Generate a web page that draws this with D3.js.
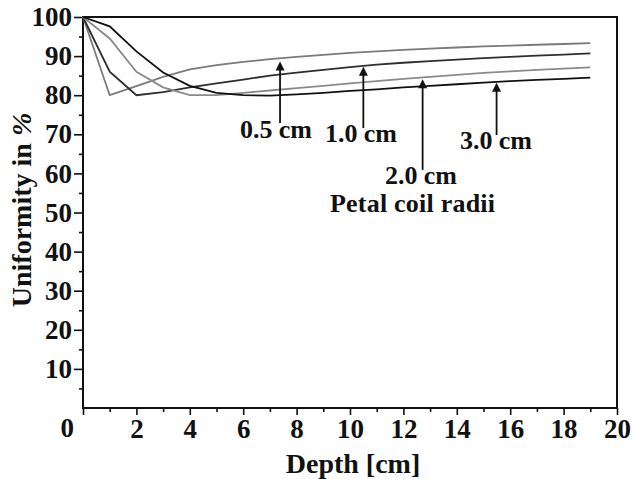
<!DOCTYPE html>
<html>
<head>
<meta charset="utf-8">
<script src="https://cdn.jsdelivr.net/npm/d3@7"></script>
<style>
  html, body { margin: 0; padding: 0; background: #fff; }
  svg { display: block; }
  text { font-family: "Liberation Serif", "Times New Roman", serif; font-weight: bold; fill: #111; }
</style>
</head>
<body>
<svg id="chart" width="632" height="479"></svg>
<script>
// ---- data ----
const depth = [0,1,2,3,4,5,6,7,8,9,10,11,12,13,14,15,16,17,18,19];
const r05 = [100,80,82.3,84.7,86.6,87.7,88.5,89.2,89.8,90.3,90.8,91.2,91.6,91.9,92.2,92.5,92.7,92.9,93.1,93.3];
const r10 = [100,86,80,80.8,82,83,84,85,85.8,86.5,87.2,87.8,88.3,88.7,89.1,89.5,89.8,90.1,90.4,90.7];
const r20 = [100,94.5,86,82,80,80,80.6,81.2,81.8,82.4,83,83.6,84.2,84.7,85.2,85.7,86.1,86.5,86.8,87.1];
const r30 = [100,97.6,91.2,85.8,82.4,80.6,80,79.9,80.2,80.6,81.1,81.5,82,82.4,82.8,83.2,83.6,83.9,84.2,84.5];
const seriesNames = ["0.5 cm","1.0 cm","2.0 cm","3.0 cm"];
const seriesValues = [r05, r10, r20, r30];
const seriesColors = ["#7a7a7a","#2e2e2e","#8a8a8a","#111111"];
// annotation arrows: x position (depth), tip value, tail value
const arrowX = [7.38, 10.5, 12.72, 15.49];
const arrowTip = [88.6, 87.3, 84.1, 83.2];
const arrowTail = [72.9, 71.6, 60.9, 69.8];
const xTicks = [0,2,4,6,8,10,12,14,16,18,20];
const yTicks = [10,20,30,40,50,60,70,80,90,100];

// ---- layout ----
const svg = d3.select("#chart");
const L = 83, R = 617, T = 17, B = 408;
const x = d3.scaleLinear().domain([0,20]).range([L,R]);
const y = d3.scaleLinear().domain([0,100]).range([B,T]);

const FF = "'Liberation Serif', 'Times New Roman', serif";
// minor ticks
const gx = svg.append("g").attr("transform",`translate(0,${B})`);
gx.call(d3.axisBottom(x).tickValues(d3.range(1,20,2)).tickSize(4).tickFormat(""));
const gxM = svg.append("g").attr("transform",`translate(0,${B})`);
gxM.call(d3.axisBottom(x).tickValues(xTicks).tickSize(7).tickPadding(4)
  .tickFormat(d => d === 0 ? "" : d));
const gy = svg.append("g").attr("transform",`translate(${L},0)`);
gy.call(d3.axisLeft(y).tickValues(d3.range(5,100,10)).tickSize(4).tickFormat(""));
const gyM = svg.append("g").attr("transform",`translate(${L},0)`);
gyM.call(d3.axisLeft(y).tickValues(yTicks).tickSize(9).tickPadding(2));
[gx,gxM,gy,gyM].forEach(g => {
  g.attr("font-family", FF);
  g.select(".domain").remove();
  g.selectAll(".tick line").attr("stroke","#111").attr("stroke-width",1.6);
  g.selectAll(".tick text").style("font-size","27px").attr("fill","#111")
    .style("font-family",FF).style("font-weight","bold");
});
// corner zero label
svg.append("text").attr("x", L-9).attr("y", 437).attr("text-anchor","end")
  .style("font-size","27px").text("0");

// frame
svg.append("rect").attr("x",L).attr("y",T).attr("width",R-L).attr("height",B-T)
  .attr("fill","none").attr("stroke","#111").attr("stroke-width",2);

// lines
const line = d3.line().x((d,i) => x(depth[i])).y(d => y(d));
seriesValues.forEach((vals,k) => {
  svg.append("path").datum(vals).attr("d",line)
    .attr("fill","none").attr("stroke",seriesColors[k]).attr("stroke-width",1.8);
});

// arrows
arrowX.forEach((ax,k) => {
  const px = x(ax), pt = y(arrowTip[k]), pb = y(arrowTail[k]);
  svg.append("line").attr("x1",px).attr("x2",px).attr("y1",pt+6).attr("y2",pb)
    .attr("stroke","#111").attr("stroke-width",1.8);
  svg.append("path").attr("d",`M${px},${pt} L${px-4.5},${pt+9} L${px+4.5},${pt+9} Z`).attr("fill","#111");
});

// annotation labels
const labelPos = [[240,138],[325,142],[385,184],[460,149]];
seriesNames.forEach((n,k) => {
  svg.append("text").attr("x",labelPos[k][0]).attr("y",labelPos[k][1])
    .style("font-size","26px").attr("textLength", 72).attr("lengthAdjust","spacing")
    .text(n);
});
svg.append("text").attr("x",330).attr("y",212).style("font-size","26px")
  .attr("textLength",165).attr("lengthAdjust","spacing").text("Petal coil radii");

// axis titles
svg.append("text").attr("x",(L+R)/2 + 3).attr("y",473).attr("text-anchor","middle")
  .style("font-size","28px").text("Depth [cm]");
const yt = svg.append("text").attr("transform","translate(31,210) rotate(-90)")
  .attr("text-anchor","middle").style("font-size","28px");
yt.append("tspan").text("Uniformity in ");
yt.append("tspan").style("font-style","italic").text("%");
</script>
</body>
</html>
